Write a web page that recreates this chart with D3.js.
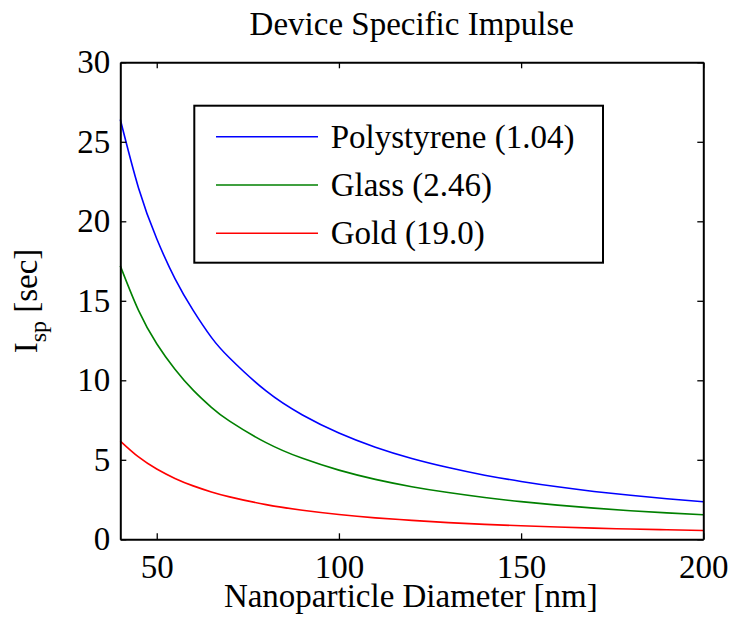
<!DOCTYPE html>
<html lang="en">
<head>
    <meta charset="utf-8">
    <title>Device Specific Impulse</title>
    <script src="https://d3js.org/d3.v7.min.js"></script>
    <style>
        body { margin: 0; background: #fff; }
    </style>
</head>
<body>
<svg width="732" height="627"></svg>
<script>
    var diameters = [40, 45, 50, 55, 60, 65, 70, 80, 90, 100, 110, 120, 130, 140, 150, 160, 170, 180, 190, 200];
    var polystyrene = [26.4, 22.1, 18.9, 16.4, 14.4, 12.7, 11.4, 9.33, 7.82, 6.68, 5.79, 5.08, 4.51, 4.03, 3.64, 3.30, 3.01, 2.77, 2.55, 2.36];
    var glass = [17.2, 14.4, 12.3, 10.7, 9.38, 8.30, 7.43, 6.08, 5.09, 4.35, 3.77, 3.31, 2.94, 2.63, 2.37, 2.15, 1.96, 1.80, 1.66, 1.54];
    var gold = [6.18, 5.18, 4.42, 3.83, 3.36, 2.98, 2.67, 2.18, 1.83, 1.56, 1.35, 1.19, 1.05, 0.94, 0.85, 0.77, 0.70, 0.65, 0.60, 0.55];
    var seriesNames = ["Polystyrene (1.04)", "Glass (2.46)", "Gold (19.0)"];
    var seriesColors = ["#0000ff", "#008000", "#ff0000"];
    var xTicks = [50, 100, 150, 200];
    var yTicks = [0, 5, 10, 15, 20, 25, 30];

    var serif = "'Liberation Serif', 'Times New Roman', Times, serif";

    var svg = d3.select("svg");
    var marge = {top: 62.3, bottom: 539.3, left: 120.3, right: 703.3};

    var x = d3.scaleLinear().domain([40, 200]).range([marge.left, marge.right]);
    var y = d3.scaleLinear().domain([0, 30]).range([marge.bottom, marge.top]);

    var allSeries = [polystyrene, glass, gold];

    // curves
    var line = d3.line()
        .x(function(d, i){ return x(diameters[i]); })
        .y(function(d){ return y(d); })
        .curve(d3.curveNatural);

    svg.append("g").selectAll("path")
        .data(allSeries)
        .enter()
        .append("path")
        .attr("d", function(d){ return line(d); })
        .attr("fill", "none")
        .attr("stroke", function(d, i){ return seriesColors[i]; })
        .attr("stroke-width", 1.6);

    // axes (MATLAB box, ticks inside)
    function styleAxis(g){
        g.attr("font-family", serif).attr("font-size", 33);
        g.select(".domain").attr("stroke", "#000").attr("stroke-width", 2);
        g.selectAll(".tick line").attr("stroke", "#000").attr("stroke-width", 1.3);
        g.selectAll(".tick text").attr("fill", "#000");
    }

    svg.append("g")
        .attr("transform", "translate(0," + marge.bottom + ")")
        .call(d3.axisBottom(x).tickValues(xTicks).tickSizeInner(-6).tickSizeOuter(0).tickPadding(15))
        .call(styleAxis);
    svg.append("g")
        .attr("transform", "translate(0," + marge.top + ")")
        .call(d3.axisTop(x).tickValues(xTicks).tickSizeInner(-6).tickSizeOuter(0).tickFormat(""))
        .call(styleAxis);
    svg.append("g")
        .attr("transform", "translate(" + marge.left + ",0)")
        .call(d3.axisLeft(y).tickValues(yTicks).tickSizeInner(-6).tickSizeOuter(0).tickPadding(10))
        .call(styleAxis);
    svg.append("g")
        .attr("transform", "translate(" + marge.right + ",0)")
        .call(d3.axisRight(y).tickValues(yTicks).tickSizeInner(-6).tickSizeOuter(0).tickFormat(""))
        .call(styleAxis);

    // title and axis labels
    svg.append("text")
        .attr("x", (marge.left + marge.right) / 2)
        .attr("y", 35)
        .attr("text-anchor", "middle")
        .attr("font-family", serif)
        .attr("font-size", 33)
        .text("Device Specific Impulse");

    svg.append("text")
        .attr("x", (marge.left + marge.right) / 2 - 1)
        .attr("y", 607)
        .attr("text-anchor", "middle")
        .attr("font-family", serif)
        .attr("font-size", 33)
        .text("Nanoparticle Diameter [nm]");

    var ylab = svg.append("text")
        .attr("transform", "translate(37,301) rotate(-90)")
        .attr("text-anchor", "middle")
        .attr("font-family", serif)
        .attr("font-size", 33);
    ylab.append("tspan").text("I");
    ylab.append("tspan").attr("dy", 9).attr("font-size", 24).text("sp");
    ylab.append("tspan").attr("dy", -9).text(" [sec]");

    // legend
    var legend = svg.append("g");
    legend.append("rect")
        .attr("x", 194.3).attr("y", 105.7)
        .attr("width", 408.7).attr("height", 157)
        .attr("fill", "#fff")
        .attr("stroke", "#000")
        .attr("stroke-width", 2);

    var items = legend.selectAll(".item")
        .data(seriesNames)
        .enter()
        .append("g")
        .attr("transform", function(d, i){ return "translate(0," + (136.7 + i * 48.3) + ")"; });
    items.append("line")
        .attr("x1", 216).attr("x2", 318)
        .attr("stroke", function(d, i){ return seriesColors[i]; })
        .attr("stroke-width", 1.6);
    items.append("text")
        .attr("x", 330.7)
        .attr("dy", 11)
        .attr("font-family", serif)
        .attr("font-size", 33)
        .text(function(d){ return d; });
</script>
</body>
</html>
